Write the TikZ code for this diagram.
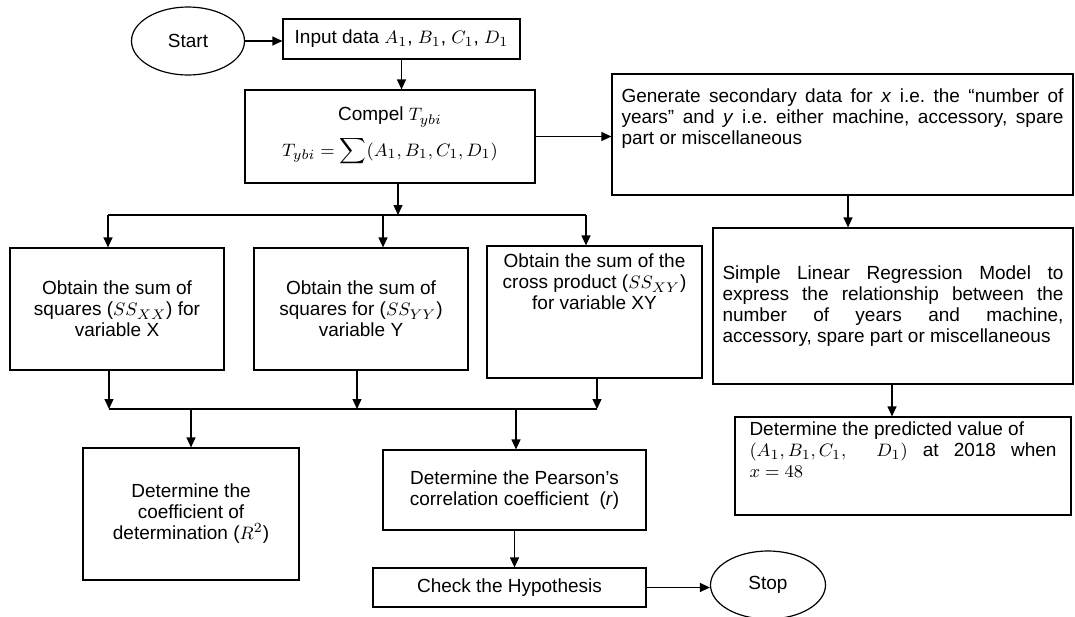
\documentclass[tikz,border=0pt]{standalone}
\usepackage{fontspec}
\setmainfont{Liberation Sans}
\usepackage{amsmath}
\usetikzlibrary{arrows.meta}
\usetikzlibrary{shapes.geometric}

\newcommand{\flowfont}{\fontsize{9.5}{10.5}\selectfont\frenchspacing}

\tikzset{
	box/.style={draw, rectangle, line width=0.6pt, inner sep=0pt, align=center, font=\flowfont},
	oval/.style={draw, ellipse, line width=0.6pt, inner sep=0pt, font=\flowfont},
	arr/.style={-{Triangle[length=5pt,width=4.5pt]}, line width=0.6pt},
	ln/.style={line width=0.6pt}
}

\begin{document}
\begin{tikzpicture}[x=0.5pt,y=-0.5pt]
	\useasboundingbox (0,0) rectangle (1075,616);
	
	% draw top row
	\node (start) [oval, minimum width=56.5pt, minimum height=34pt] at (188,41) {Start};
	\node (input) [box, minimum width=118.5pt, minimum height=20pt] at (401.5,39) {Input data $A_1$, $B_1$, $C_1$, $D_1$};
	\node (compel) [box, minimum width=145pt, minimum height=46.5pt] at (390,136.5) {Compel $T_{ybi}$\\[4pt] $T_{ybi} = \displaystyle\sum(A_1,B_1,C_1,D_1)$};
	
	% draw right column
	\node (gen) [box, minimum width=230.5pt, minimum height=60.5pt] at (842.5,134.5)
	{\parbox[c][60.5pt][t]{221pt}{\vspace*{7.5pt}Generate secondary data for \textit{x} i.e. the “number of\linebreak years” and \textit{y} i.e. either machine, accessory, spare\linebreak part or miscellaneous}};
	\node (slr) [box, minimum width=180pt, minimum height=78pt, text width=170.5pt, align=justify] at (893,306)
	{Simple Linear Regression Model to\linebreak express the relationship between the\linebreak number of years and machine,\linebreak accessory, spare part or miscellaneous};
	\node (pred) [box, minimum width=168pt, minimum height=49pt] at (903,466)
	{\parbox[c][49pt][t]{153.5pt}{\vspace*{2.5pt}Determine the predicted value of\newline $(A_1, B_1, C_1,$ \ $D_1)$ at 2018 when\linebreak $x = 48$}};
	
	% draw sums of squares
	\node (ssxx) [box, minimum width=107pt, minimum height=61pt] at (117,309) {Obtain the sum of\\ squares ($SS_{XX}$) for\\ variable X};
	\node (ssyy) [box, minimum width=107pt, minimum height=61pt] at (361,309) {Obtain the sum of\\ squares for ($SS_{YY}$)\\ variable Y};
	\node (ssxy) [box, minimum width=107.5pt, minimum height=66pt] at (594.5,312)
	{\parbox[c][66pt][t]{107.5pt}{\centering\vspace*{4pt}Obtain the sum of the\\ cross product ($SS_{XY}$)\\ for variable XY}};
	
	% draw results
	\node (rsq) [box, minimum width=108pt, minimum height=66pt] at (191,514) {Determine the\\ coefficient of\\ determination ($R^2$)};
	\node (pear) [box, minimum width=131.5pt, minimum height=40pt] at (514.5,490) {Determine the Pearson’s\\ correlation coefficient\ \ (\textit{r})};
	\node (check) [box, minimum width=136.5pt, minimum height=19.5pt] at (509.5,587.5) {Check the Hypothesis};
	\node (stop) [oval, minimum width=57.5pt, minimum height=34pt] at (768,585) {Stop};
	
	% branch points
	\coordinate (splitTop) at (398,215);
	\coordinate (splitL) at (108,215);
	\coordinate (splitM) at (383,215);
	\coordinate (splitR) at (586,215);
	\coordinate (joinL) at (109,409);
	\coordinate (joinM) at (357,409);
	\coordinate (joinR) at (597,409);
	\coordinate (joinA) at (191,409);
	\coordinate (joinB) at (516,409);
	\coordinate (genOut) at (848,0);
	\coordinate (slrOut) at (892,0);
	
	% draw arrows
	\draw[arr] (start.east) -- (start.east -| input.west);
	\draw[arr] (input.south) -- (input.south |- compel.north);
	\draw[arr] (compel.east) -- (compel.east -| gen.west);
	\draw[arr] (gen.south -| genOut) -- (slr.north -| genOut);
	\draw[arr] (slr.south -| slrOut) -- (pred.north -| slrOut);
	
	\draw[arr] (compel.south -| splitTop) -- (splitTop);
	\draw[ln] (splitL) -- (splitR);
	\draw[arr] (splitL) -- (splitL |- ssxx.north);
	\draw[arr] (splitM) -- (splitM |- ssyy.north);
	\draw[arr] (splitR) -- (splitR |- ssxy.north);
	
	\draw[arr] (ssxx.south -| joinL) -- (joinL);
	\draw[arr] (ssyy.south -| joinM) -- (joinM);
	\draw[arr] (ssxy.south -| joinR) -- (joinR);
	\draw[ln] (joinL) -- (joinR);
	\draw[arr] (joinA) -- (joinA |- rsq.north);
	\draw[arr] (joinB) -- (joinB |- pear.north);
	
	\draw[arr] (pear.south) -- (pear.south |- check.north);
	\draw[arr] (check.east) -- (check.east -| stop.west);
\end{tikzpicture}
\end{document}
